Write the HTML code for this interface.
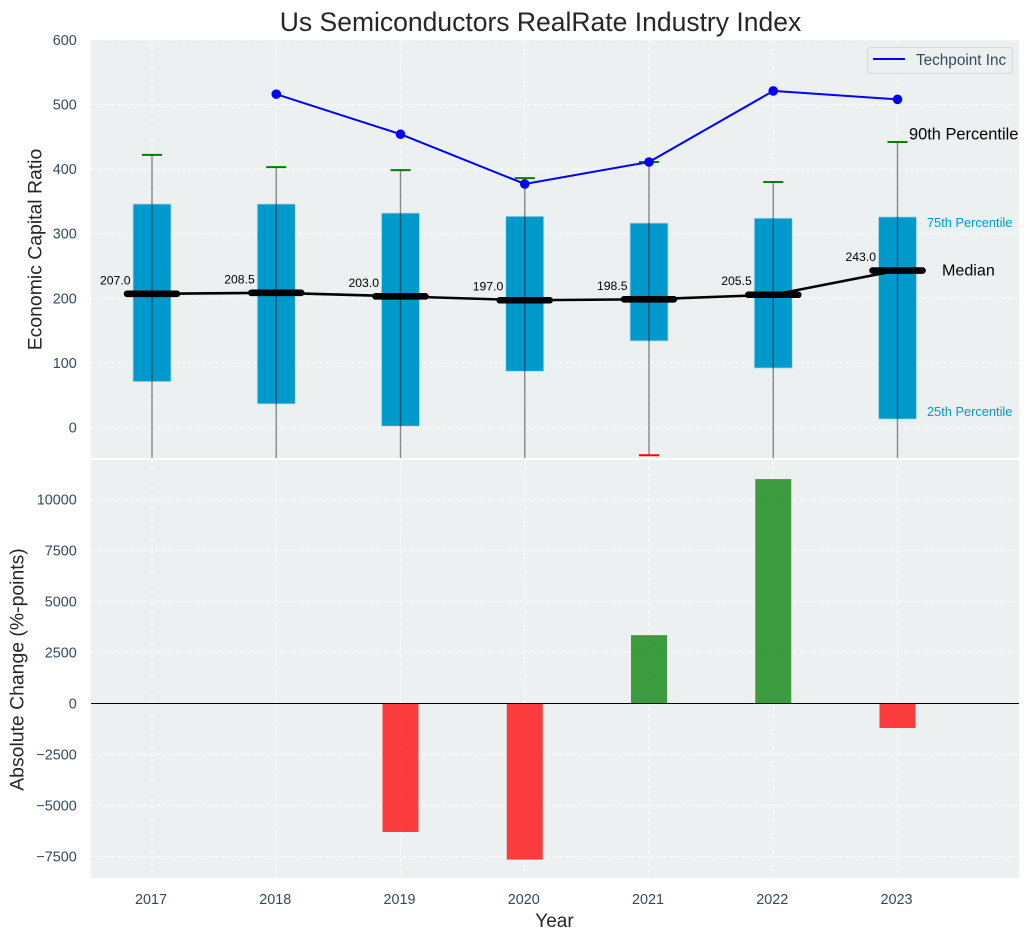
<!DOCTYPE html>
<html lang="en">
<head>
<meta charset="utf-8">
<title>Us Semiconductors RealRate Industry Index</title>
<style>
html,body{margin:0;padding:0;background:#fff;width:1030px;height:940px;overflow:hidden}
svg{display:block;font-family:"Liberation Sans",Arial,sans-serif}
</style>
</head>
<body>
<svg id="chart" width="1030" height="940" viewBox="0 0 1030 940" xmlns="http://www.w3.org/2000/svg"></svg>
<script>
const years = [2017, 2018, 2019, 2020, 2021, 2022, 2023];
const p90 = [422, 403, 398.5, 386, 411, 380, 442];
const p75 = [346, 346, 332, 327, 316.5, 324, 326];
const medians = [207, 208.5, 203, 197, 198.5, 205.5, 243];
const p25 = [71, 36.5, 2, 87, 134, 92, 13];
const p10 = [-60, -75, -70, -55, -43, -65, -80];
const companyYears = [2018, 2019, 2020, 2021, 2022, 2023];
const companyValues = [516, 454, 377, 411, 521, 508];
const changeYears = [2019, 2020, 2021, 2022, 2023];
const changeValues = [-6300, -7650, 3350, 11000, -1200];
const topTicks = [0, 100, 200, 300, 400, 500, 600];
const bottomTicks = [-7500, -5000, -2500, 0, 2500, 5000, 7500, 10000];

const INK = '#34495e';
const X = v => 152 + (v - 2017) * 124.25;
const YT = v => 427.5 - v * 0.646;
const YB = v => 703.5 - v * 0.0204;
const svg = document.getElementById('chart');
const NS = 'http://www.w3.org/2000/svg';

function make(tag, props, parent) {
  const el = document.createElementNS(NS, tag);
  for (const k in props) el.setAttribute(k, props[k]);
  (parent || svg).appendChild(el);
  return el;
}
function label(str, props, parent) {
  const el = make('text', props, parent);
  el.textContent = str;
  return el;
}

const defs = make('defs', {});
const c1 = make('clipPath', {id: 'clip-top'}, defs);
make('rect', {x: 91, y: 40, width: 928, height: 418}, c1);
const c2 = make('clipPath', {id: 'clip-bottom'}, defs);
make('rect', {x: 91, y: 460, width: 928, height: 418}, c2);

const bgTop = make('rect', {x: 91, y: 40, width: 928, height: 418, fill: '#ecf0f1'});


const bgBottom = make('rect', {x: 91, y: 460, width: 928, height: 418, fill: '#ecf0f1'});



const gridStyle = {stroke: '#fff', 'stroke-width': 1, 'stroke-dasharray': '4 2.5', opacity: 0.85};

/* vertical grid + x ticks */
years.forEach(y => {
  const g1 = make('line', Object.assign({x1: X(y), x2: X(y), y1: 40, y2: 458}, gridStyle));
  
  
  const g2 = make('line', Object.assign({x1: X(y), x2: X(y), y1: 460, y2: 878}, gridStyle));
  
  
  const t = label(String(y), {x: X(y) - 1, y: 904, 'font-size': 14.4, fill: INK, 'text-anchor': 'middle'});
  
  
});

/* top y grid + ticks */
topTicks.forEach(v => {
  const g = make('line', Object.assign({x1: 91, x2: 1019, y1: YT(v), y2: YT(v)}, gridStyle));
  
  
  const t = label(String(v), {x: 76.8, y: YT(v) + 5, 'font-size': 14.4, fill: INK, 'text-anchor': 'end'});
  
  
});

/* bottom y grid + ticks */
bottomTicks.forEach(v => {
  const g = make('line', Object.assign({x1: 91, x2: 1019, y1: YB(v), y2: YB(v)}, gridStyle));
  
  
  const t = label(String(v).replace('-', '\u2212'), {x: 76.8, y: YB(v) + 5, 'font-size': 14.4, fill: INK, 'text-anchor': 'end'});
  
  
});

/* top panel marks */
const topG = make('g', {'clip-path': 'url(#clip-top)'});



years.forEach((y, i) => {
  const box = make('rect', {
    x: X(y) - 19, width: 38, y: YT(p75[i]), height: YT(p25[i]) - YT(p75[i]),
    fill: '#0099cc', stroke: '#b5dcea', 'stroke-width': 0.8
  }, topG);
  
  
  const whisker = make('line', {
    x1: X(y), x2: X(y), y1: YT(p90[i]), y2: YT(p10[i]),
    stroke: '#000', 'stroke-opacity': 0.45, 'stroke-width': 1.4
  }, topG);
  
  
  const capHigh = make('line', {
    x1: X(y) - 10, x2: X(y) + 10, y1: YT(p90[i]), y2: YT(p90[i]),
    stroke: '#008000', 'stroke-width': 2
  }, topG);
  
  
  const capLow = make('line', {
    x1: X(y) - 10, x2: X(y) + 10, y1: YT(p10[i]), y2: YT(p10[i]),
    stroke: '#ff0000', 'stroke-width': 2
  }, topG);
  
  
});

const medianLine = make('polyline', {
  points: years.map((y, i) => X(y) + ',' + YT(medians[i])).join(' '),
  fill: 'none', stroke: '#000', 'stroke-width': 2.6
}, topG);



years.forEach((y, i) => {
  const bar = make('line', {
    x1: X(y) - 25, x2: X(y) + 25, y1: YT(medians[i]), y2: YT(medians[i]),
    stroke: '#000', 'stroke-width': 6.6, 'stroke-linecap': 'round'
  }, topG);
  
  
  const t = label(medians[i].toFixed(1), {
    x: X(y) - 21.5, y: YT(medians[i]) - 9.5, 'font-size': 12.2, fill: '#000', 'text-anchor': 'end'
  }, topG);
  
  
});

const companyLine = make('polyline', {
  points: companyYears.map((y, i) => X(y) + ',' + YT(companyValues[i])).join(' '),
  fill: 'none', stroke: '#0000ff', 'stroke-width': 2
}, topG);


companyYears.forEach((y, i) => {
  const dot = make('circle', {cx: X(y), cy: YT(companyValues[i]), r: 4.8, fill: '#0000ff'}, topG);
  
  
});

/* percentile annotations */
const a90 = label('90th Percentile', {x: 909, y: 139.5, 'font-size': 16.4, fill: '#000'}, topG);


const a75 = label('75th Percentile', {x: 927, y: 227, 'font-size': 12.8, fill: '#0099cc'}, topG);


const aMed = label('Median', {x: 942, y: 275.5, 'font-size': 16.1, fill: '#000'}, topG);


const a25 = label('25th Percentile', {x: 927, y: 416, 'font-size': 12.8, fill: '#0099cc'}, topG);



/* legend */
const legend = make('g', {});


make('rect', {x: 867.5, y: 47.5, width: 145, height: 26, rx: 3, fill: '#ecf0f1', stroke: '#d3d6dc', 'stroke-width': 1}, legend);
const legendLine = make('line', {x1: 873, x2: 905, y1: 59, y2: 59, stroke: '#0000ff', 'stroke-width': 2}, legend);


const legendText = label('Techpoint Inc', {x: 916, y: 65, 'font-size': 15.3, fill: INK}, legend);



/* bottom panel marks */
const botG = make('g', {'clip-path': 'url(#clip-bottom)'});


changeYears.forEach((y, i) => {
  const v = changeValues[i];
  const bar = make('rect', {
    x: X(y) - 18, width: 36,
    y: Math.min(YB(v), YB(0)), height: Math.abs(YB(v) - YB(0)),
    fill: v >= 0 ? '#008000' : '#ff0000', 'fill-opacity': 0.75
  }, botG);
  
  
});
const zero = make('line', {x1: 91, x2: 1019, y1: YB(0), y2: YB(0), stroke: '#000', 'stroke-width': 1.1}, botG);



/* titles */
const title = label('Us Semiconductors RealRate Industry Index', {x: 540.5, y: 31, 'font-size': 26.5, fill: '#262626', 'text-anchor': 'middle'});


const yTop = label('Economic Capital Ratio', {x: 0, y: 0, 'font-size': 19.4, fill: '#262626', 'text-anchor': 'middle', transform: 'translate(41.5 249.5) rotate(-90)'});


const yBot = label('Absolute Change (%-points)', {x: 0, y: 0, 'font-size': 19.4, fill: '#262626', 'text-anchor': 'middle', transform: 'translate(23.5 669.5) rotate(-90)'});


const xTitle = label('Year', {x: 554.5, y: 927, 'font-size': 19, fill: '#262626', 'text-anchor': 'middle'});


</script>
</body>
</html>
